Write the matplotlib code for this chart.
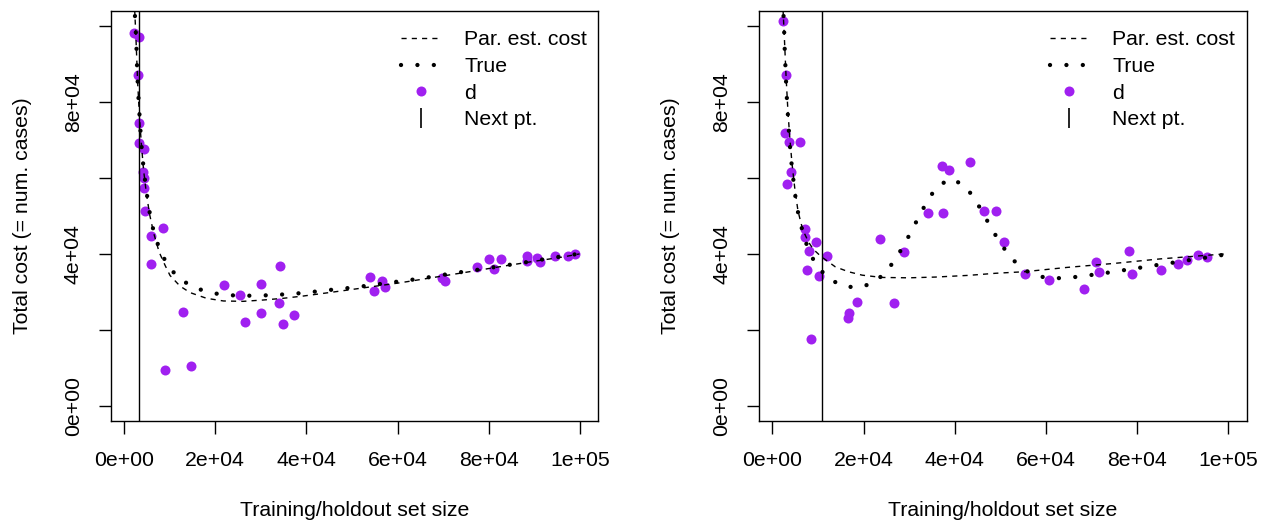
import matplotlib.pyplot as plt
from matplotlib.lines import Line2D

plt.rcParams['font.family'] = ['Liberation Sans', 'DejaVu Sans']

# ---- left panel data ----
left_d_x = [2260, 3220, 3000, 3350, 3350, 4450, 4230, 4380, 4320, 4670, 8540, 5910, 5910,
            12990, 9000, 14610, 21840, 25480, 26510, 30080, 30080, 34110, 34020, 34770, 37240,
            53860, 56490, 54900, 57240, 69800, 70380, 77330, 80020, 82650, 81050, 88280, 88350,
            90620, 91280, 94570, 97330, 98950]
left_d_y = [98130, 97230, 87060, 74410, 69140, 67720, 61500, 59920, 57370, 51380, 46750, 44800, 37260,
            24690, 9490, 10540, 31720, 29250, 22060, 31990, 24430, 36730, 27060, 21530, 23900,
            33830, 32780, 30300, 31200, 33650, 32860, 36550, 38730, 38730, 36020, 39450, 38050,
            38840, 37950, 39450, 39450, 39890]

left_true_x = [2250, 2480, 2700, 2780, 3070, 3290, 3500, 3720, 4010, 4380, 4820, 5320, 5910, 6790,
               8040, 9710, 12050, 15120, 18560, 22060, 25630, 29200, 32800, 36370, 39940, 43530,
               47110, 50750, 54320, 57830, 61330, 64990, 68490, 72060, 75630, 79140, 82650, 86240,
               89740, 93320, 96890, 99900]
left_true_y = [107000, 100500, 96180, 91800, 83190, 78790, 74580, 70200, 65980, 61580, 57370, 53150,
               48850, 44640, 40500, 36730, 33570, 31280, 29880, 29170, 28990, 28990, 29170, 29430,
               29780, 30300, 30750, 31200, 31800, 32330, 32940, 33460, 34180, 34890, 35490, 36100,
               36810, 37410, 38130, 38840, 39530, 40050]

left_est_x = [2200, 2600, 3000, 3400, 3800, 4300, 4900, 5600, 6500, 7700, 9000, 10100, 12300, 14500,
              18100, 21800, 26100, 30500, 34900, 39300, 43700, 48000, 51000, 60600, 67900, 75200,
              81800, 89100, 96300, 99900]
left_est_y = [108000, 97500, 85000, 76000, 69000, 62000, 56000, 50500, 45500, 40500, 37000, 34300,
              31500, 29800, 28300, 27600, 27500, 27850, 28300, 28900, 29600, 30300, 30800, 32400,
              33800, 35200, 36500, 37900, 39200, 40000]
left_next = 3350

# ---- right panel data ----
right_d_x = [2420, 2940, 2790, 3670, 6020, 4110, 3300, 7120, 7250, 9600, 8000, 12020, 7690, 10330,
             8570, 18550, 16920, 16700, 23520, 26750, 28950, 34150, 37520, 37300, 38770, 43450,
             46460, 49100, 50770, 55380, 60740, 68430, 71070, 71650, 78110, 78900, 85140, 88950,
             90930, 93280, 95320]
right_d_y = [101450, 87060, 71780, 69490, 69570, 61660, 58340, 46640, 44380, 43140, 40770, 39370,
             35840, 34100, 17580, 27330, 24430, 23030, 44010, 27060, 40420, 50700, 50780, 63240,
             62190, 64220, 51380, 51380, 43050, 34700, 33120, 30830, 37940, 35230, 40770, 34780,
             35680, 37340, 38390, 39710, 39100]

right_true_x = [2250, 2570, 2640, 2790, 2940, 3080, 3300, 3520, 3740, 4040, 4400, 4840, 5270, 6020,
                6900, 8070, 9760, 12240, 15320, 18900, 22280, 24990, 27120, 28950, 30640, 32240,
                34000, 35980, 38990, 42070, 44260, 46090, 47850, 49670, 51730, 54150, 57230, 60740,
                64330, 67910, 71430, 75030, 78620, 82130, 85710, 89320, 92830, 96420, 99930]
right_true_y = [107000, 100320, 96100, 91700, 87400, 83110, 78790, 74490, 70200, 65880, 61580, 57290,
                52970, 48860, 44640, 40580, 36810, 33650, 31540, 31090, 32410, 35310, 38840, 42530,
                46300, 50070, 53940, 57550, 59820, 58160, 54730, 50960, 47170, 43480, 39890, 36730,
                34440, 33570, 33650, 34100, 34700, 35310, 36020, 36630, 37340, 37940, 38650, 39260,
                39970]

right_est_x = [2200, 2600, 3000, 3400, 3800, 4300, 4900, 5600, 6300, 7000, 8000, 9000, 10700, 13800,
               16700, 19700, 24000, 29900, 35800, 43100, 49000, 55200, 64700, 75000, 85200, 93300,
               99900]
right_est_y = [108000, 98000, 87000, 78000, 71000, 64000, 57500, 51500, 48000, 45500, 43000, 41200,
               39300, 36600, 35300, 34400, 33800, 33700, 33900, 34350, 34900, 35300, 36450, 37500,
               38700, 39450, 40050]
right_next = 11000

x_ticks = [0, 20000, 40000, 60000, 80000, 100000]
x_tick_labels = ['0e+00', '2e+04', '4e+04', '6e+04', '8e+04', '1e+05']
y_ticks = [0, 20000, 40000, 60000, 80000, 100000]
y_tick_labels = ['0e+00', '', '4e+04', '', '8e+04', '']

purple = '#A020F0'
fs = 15.3
dot_style = (0, (0.01, 3.8))
dash_style = (0, (3.7, 3.7))


def panel(ax, dx, dy, tx, ty, ex, ey, nxt):
    ax.plot(dx, dy, 'o', color=purple, ms=7.2, mew=0, zorder=2)
    ax.plot(ex, ey, color='black', lw=1.0, linestyle=dash_style, zorder=3)
    ax.plot(tx, ty, color='black', lw=3.1, linestyle=dot_style, dash_capstyle='round', zorder=3)
    ax.axvline(nxt, color='black', lw=1.0, zorder=3)
    ax.set_xlim(-2920, 104000)
    ax.set_ylim(-3950, 104080)
    ax.set_xticks(x_ticks)
    ax.set_xticklabels(x_tick_labels)
    ax.set_yticks(y_ticks)
    ax.set_yticklabels(y_tick_labels, rotation=90, va='center')
    ax.tick_params(direction='out', length=9, width=1.0, labelsize=fs)
    ax.tick_params(axis='x', pad=13)
    ax.tick_params(axis='y', pad=11)
    for s in ax.spines.values():
        s.set_linewidth(1.0)
    ax.set_xlabel('Training/holdout set size', fontsize=fs, labelpad=22)
    ax.set_ylabel('Total cost (= num. cases)', fontsize=fs, labelpad=23)

    handles = [
        Line2D([], [], color='black', lw=1.0, linestyle=dash_style),
        Line2D([], [], color='black', lw=3.1, linestyle=dot_style, dash_capstyle='round'),
        Line2D([], [], color=purple, marker='o', ms=7.2, mew=0, linestyle='none'),
        Line2D([], [], color='black', marker='|', ms=14, mew=1.2, linestyle='none'),
    ]
    labels = ['Par. est. cost', 'True', 'd', 'Next pt.']
    ax.legend(handles, labels, loc='upper right', bbox_to_anchor=(0.977, 0.952),
              frameon=False, fontsize=fs, borderpad=0, borderaxespad=0,
              handlelength=1.85, handletextpad=1.1, labelspacing=0.36)


fig = plt.figure(figsize=(12.68, 5.23), dpi=100)
ax1 = fig.add_axes([0.0873, 0.1956, 0.3845, 0.7839])
ax2 = fig.add_axes([0.5986, 0.1956, 0.3845, 0.7839])

panel(ax1, left_d_x, left_d_y, left_true_x, left_true_y, left_est_x, left_est_y, left_next)
panel(ax2, right_d_x, right_d_y, right_true_x, right_true_y, right_est_x, right_est_y, right_next)

fig.savefig('out.png', dpi=100)
